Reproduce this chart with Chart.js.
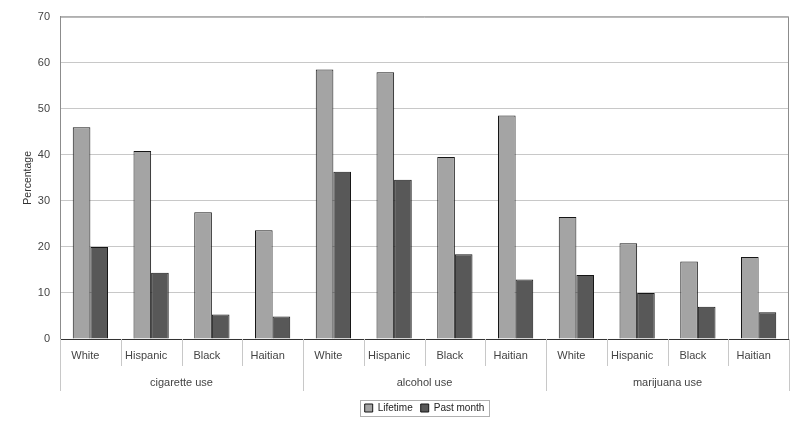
<!DOCTYPE html>
<html lang="en">
<head>
  <meta charset="UTF-8" />
  <title>Substance use by ethnicity</title>
  <script src="https://cdn.jsdelivr.net/npm/chart.js"></script>
  <style>
    html, body { margin: 0; padding: 0; background: #fff; }
    #wrap { position: relative; width: 800px; height: 429px; }
  </style>
</head>
<body>
  <div id="wrap">
    <canvas id="useChart"></canvas>
  </div>

  <script>
    // data
    const groups = ["cigarette use", "alcohol use", "marijuana use"];
    const races = ["White", "Hispanic", "Black", "Haitian"];
    const lifetime = [46, 40.8, 27.5, 23.6, 58.5, 57.9, 39.5, 48.5, 26.5, 20.8, 16.8, 17.8];
    const pastMonth = [20, 14.4, 5.3, 4.9, 36.3, 34.6, 18.4, 12.9, 13.9, 10, 7, 5.8];
    const yTicks = [0, 10, 20, 30, 40, 50, 60, 70];

    const labels = [];
    groups.forEach(() => races.forEach(r => labels.push(r)));

    // gray frame round the plot, separators under the axis, border round the legend
    const framePlugin = {
      id: "frame",
      beforeDatasetsDraw(chart) {
        const a = chart.chartArea, ctx = chart.ctx;
        const xs = chart.scales.x;
        ctx.save();
        ctx.strokeStyle = "#8c8c8c";
        ctx.lineWidth = 1;
        ctx.beginPath();
        ctx.moveTo(a.left + 0.5, a.bottom);
        ctx.lineTo(a.left + 0.5, a.top + 0.5);
        ctx.lineTo(a.right - 0.5, a.top + 0.5);
        ctx.lineTo(a.right - 0.5, a.bottom);
        ctx.stroke();

        // separators between categories and between groups
        const step = xs.getPixelForValue(1) - xs.getPixelForValue(0);
        ctx.strokeStyle = "#c8c8c8";
        for (let i = 0; i <= labels.length; i++) {
          const px = Math.round(xs.getPixelForValue(i) - step / 2) + 0.5;
          const isGroup = i % races.length === 0;
          ctx.beginPath();
          ctx.moveTo(px, a.bottom);
          ctx.lineTo(px, a.bottom + (isGroup ? 52 : 27));
          ctx.stroke();
        }
        ctx.restore();
      },
      afterDraw(chart) {
        const boxes = chart.legend.legendHitBoxes;
        if (!boxes || !boxes.length) return;
        const ctx = chart.ctx;
        const x0 = Math.min(...boxes.map(b => b.left)) - 5;
        const x1 = Math.max(...boxes.map(b => b.left + b.width)) + 4;
        const y0 = Math.min(...boxes.map(b => b.top)) - 3;
        const y1 = Math.max(...boxes.map(b => b.top + b.height)) + 3;
        ctx.save();
        ctx.strokeStyle = "#b0b0b0";
        ctx.lineWidth = 1;
        ctx.strokeRect(Math.round(x0) + 0.5, Math.round(y0) + 0.5, Math.round(x1 - x0), Math.round(y1 - y0));
        ctx.restore();
      }
    };

    Chart.defaults.font.family = "'Liberation Sans', Arial, sans-serif";
    Chart.defaults.font.size = 11;
    Chart.defaults.color = "#333";

    new Chart(document.getElementById("useChart"), {
      type: "bar",
      data: {
        labels,
        datasets: [
          {
            label: "Lifetime",
            data: lifetime,
            backgroundColor: "#a4a4a4",
            borderColor: "#161616",
            borderWidth: 1
          },
          {
            label: "Past month",
            data: pastMonth,
            backgroundColor: "#585858",
            borderColor: "#161616",
            borderWidth: 1
          }
        ]
      },
      options: {
        responsive: true,
        maintainAspectRatio: false,
        animation: false,
        layout: { padding: { left: 22, right: 11, top: 11, bottom: 6 } },
        datasets: { bar: { categoryPercentage: 0.58, barPercentage: 1.0 } },
        plugins: {
          tooltip: { enabled: false },
          legend: {
            position: "bottom",
            fullSize: false,
            labels: {
              boxWidth: 8,
              boxHeight: 8,
              padding: 8,
              color: "#222",
              font: { size: 10 }
            }
          }
        },
        scales: {
          y: {
            min: 0,
            max: 70,
            afterBuildTicks(scale) {
              scale.ticks = yTicks.map(v => ({ value: v }));
            },
            afterFit(scale) { scale.width = 38; },
            grid: { color: "#c8c8c8", drawTicks: false },
            border: { color: "#8c8c8c" },
            ticks: { padding: 10, color: "#444" },
            title: {
              display: true,
              text: "Percentage",
              padding: 0,
              font: { size: 10.5 },
              color: "#333"
            }
          },
          x: {
            position: "bottom",
            afterFit(scale) { scale.height = 22; },
            grid: { offset: true, drawOnChartArea: false, drawTicks: false },
            border: { color: "#333" },
            ticks: { padding: 10, labelOffset: -5, maxRotation: 0, autoSkip: false, color: "#444" }
          },
          x2: {
            type: "category",
            position: "bottom",
            labels: groups,
            offset: true,
            afterFit(scale) { scale.height = 34; },
            grid: { offset: true, drawOnChartArea: false, drawTicks: false },
            border: { display: false },
            ticks: { padding: 15, maxRotation: 0, autoSkip: false, color: "#444" }
          }
        }
      },
      plugins: [framePlugin]
    });
  </script>
</body>
</html>
